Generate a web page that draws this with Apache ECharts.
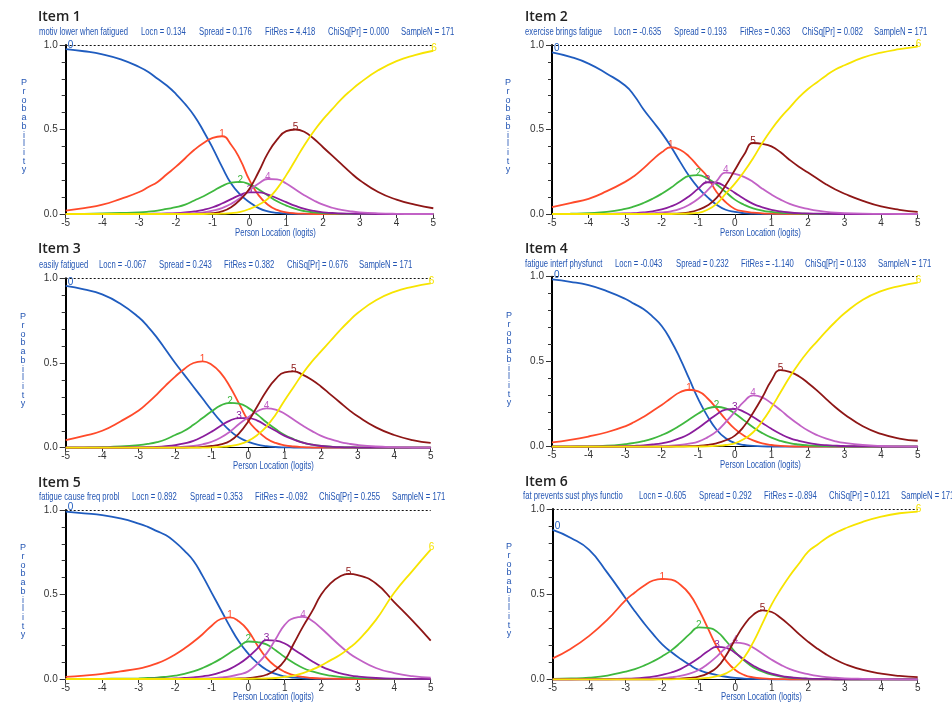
<!DOCTYPE html>
<html>
<head>
<meta charset="utf-8">
<script src="https://cdn.jsdelivr.net/npm/echarts@6/dist/echarts.min.js"></script>
<style>
  html, body { margin: 0; padding: 0; background: #fff; }
  #chart { width: 952px; height: 702px; }
</style>
</head>
<body>
<div id="chart"></div>
<script>
// Person location grid (logits), shared by every item: coarse in the tails, finer in the middle
const xs = [-5, -4.5, -4, -3.5, -3,
            -2.75, -2.5, -2.25, -2, -1.75, -1.5, -1.25, -1, -0.75, -0.5, -0.25, 0,
            0.25, 0.5, 0.75, 1, 1.25, 1.5, 1.75, 2, 2.25, 2.5, 2.75, 3,
            3.5, 4, 4.5, 5];

// Category probability curves, one row per response category 0..6
const item1 = [
  [.975, .963, .945, .915, .87, .84, .80, .76, .71, .65, .58, .49, .39, .28, .18, .115, .07, .035, .016, .007, .003, .001, 0, 0, 0, 0, 0, 0, 0, 0, 0, 0, 0],
  [.02, .035, .055, .09, .13, .16, .19, .235, .28, .33, .38, .42, .45, .46, .41, .32, .20, .11, .055, .024, .01, .004, .002, 0, 0, 0, 0, 0, 0, 0, 0, 0, 0],
  [0, .001, .003, .006, .01, .014, .02, .03, .04, .055, .08, .105, .135, .165, .185, .19, .175, .145, .11, .075, .05, .03, .017, .01, .005, .003, .001, 0, 0, 0, 0, 0, 0],
  [0, 0, 0, 0, .001, .001, .002, .003, .005, .009, .015, .025, .04, .062, .088, .113, .128, .128, .115, .093, .07, .048, .03, .018, .01, .006, .003, .002, .001, 0, 0, 0, 0],
  [0, 0, 0, 0, 0, 0, .001, .001, .002, .003, .005, .01, .02, .035, .06, .095, .14, .18, .207, .205, .18, .145, .11, .08, .055, .037, .025, .016, .01, .004, .001, 0, 0],
  [0, 0, 0, 0, 0, 0, 0, 0, 0, 0, .001, .002, .005, .015, .04, .085, .15, .25, .36, .44, .49, .50, .485, .445, .395, .345, .295, .245, .20, .13, .085, .055, .034],
  [0, 0, 0, 0, 0, 0, 0, 0, 0, 0, 0, 0, .001, .002, .005, .013, .03, .055, .09, .15, .23, .32, .41, .49, .56, .62, .68, .73, .775, .85, .905, .94, .966]
];
const item2 = [
  [.957, .93, .89, .83, .76, .70, .62, .55, .48, .40, .31, .225, .155, .10, .055, .025, .012, .005, .002, .001, 0, 0, 0, 0, 0, 0, 0, 0, 0, 0, 0, 0, 0],
  [.04, .065, .09, .135, .19, .225, .27, .32, .365, .395, .38, .34, .28, .22, .13, .07, .03, .015, .008, .004, .002, .001, 0, 0, 0, 0, 0, 0, 0, 0, 0, 0, 0],
  [0, .002, .005, .012, .03, .045, .065, .09, .12, .155, .195, .225, .23, .21, .175, .13, .085, .055, .033, .02, .012, .007, .004, .002, .001, 0, 0, 0, 0, 0, 0, 0, 0],
  [0, 0, 0, .001, .003, .005, .009, .016, .027, .045, .07, .105, .15, .188, .185, .16, .125, .09, .06, .04, .025, .015, .009, .005, .003, .002, .001, 0, 0, 0, 0, 0, 0],
  [0, 0, 0, 0, .001, .002, .003, .005, .009, .016, .03, .055, .09, .14, .195, .245, .238, .22, .19, .15, .115, .085, .06, .042, .03, .02, .013, .008, .005, .002, .001, 0, 0],
  [0, 0, 0, 0, 0, 0, 0, 0, .001, .002, .004, .01, .025, .05, .095, .17, .26, .35, .42, .415, .40, .365, .32, .28, .245, .21, .175, .145, .12, .078, .045, .025, .013],
  [0, 0, 0, 0, 0, 0, 0, 0, 0, 0, .001, .003, .007, .025, .06, .12, .18, .25, .33, .42, .50, .57, .63, .69, .74, .78, .82, .855, .88, .925, .955, .975, .99]
];
const item3 = [
  [.955, .935, .905, .85, .77, .715, .65, .575, .50, .43, .36, .29, .22, .155, .10, .06, .035, .018, .009, .004, .002, .001, 0, 0, 0, 0, 0, 0, 0, 0, 0, 0, 0],
  [.045, .07, .10, .155, .22, .265, .315, .37, .42, .465, .50, .51, .49, .44, .36, .26, .16, .10, .055, .028, .014, .007, .003, .001, 0, 0, 0, 0, 0, 0, 0, 0, 0],
  [0, .001, .003, .007, .015, .022, .033, .05, .075, .10, .135, .175, .215, .25, .265, .26, .235, .195, .15, .11, .075, .05, .03, .018, .01, .006, .003, .002, .001, 0, 0, 0, 0],
  [0, 0, 0, .001, .002, .003, .005, .009, .015, .025, .04, .065, .095, .13, .16, .175, .175, .16, .13, .10, .07, .048, .03, .018, .01, .006, .003, .002, .001, 0, 0, 0, 0],
  [0, 0, 0, 0, 0, 0, .001, .002, .003, .006, .01, .02, .035, .06, .095, .14, .18, .215, .232, .225, .20, .165, .13, .098, .07, .05, .035, .024, .016, .007, .003, .001, 0],
  [0, 0, 0, 0, 0, 0, 0, 0, .001, .001, .002, .004, .01, .02, .04, .085, .155, .245, .335, .405, .445, .45, .43, .40, .36, .315, .27, .225, .185, .12, .075, .045, .028],
  [0, 0, 0, 0, 0, 0, 0, 0, 0, 0, .001, .001, .002, .005, .01, .02, .04, .075, .125, .195, .28, .36, .44, .51, .57, .63, .69, .745, .795, .87, .92, .95, .97]
];
const item4 = [
  [.984, .97, .95, .915, .87, .84, .81, .765, .71, .625, .52, .40, .28, .18, .10, .05, .022, .01, .005, .002, .001, 0, 0, 0, 0, 0, 0, 0, 0, 0, 0, 0, 0],
  [.025, .04, .06, .085, .12, .145, .175, .21, .245, .285, .32, .335, .325, .285, .225, .16, .105, .065, .037, .02, .01, .005, .002, .001, 0, 0, 0, 0, 0, 0, 0, 0, 0],
  [0, .001, .002, .006, .015, .022, .033, .048, .068, .093, .125, .16, .195, .225, .235, .225, .195, .155, .115, .08, .053, .034, .021, .013, .008, .005, .003, .002, .001, 0, 0, 0, 0],
  [0, 0, 0, .001, .003, .005, .008, .013, .02, .032, .05, .075, .11, .15, .19, .218, .223, .205, .175, .14, .105, .075, .05, .034, .022, .014, .009, .006, .004, .002, .001, 0, 0],
  [0, 0, 0, 0, 0, 0, .001, .002, .003, .006, .01, .018, .03, .055, .09, .145, .205, .265, .302, .29, .255, .215, .17, .13, .095, .068, .047, .032, .022, .01, .004, .002, .001],
  [0, 0, 0, 0, 0, 0, 0, 0, .001, .001, .002, .003, .005, .01, .02, .038, .065, .12, .20, .29, .39, .45, .44, .415, .375, .33, .28, .232, .19, .12, .075, .048, .035],
  [0, 0, 0, 0, 0, 0, 0, 0, 0, 0, 0, 0, .001, .002, .005, .01, .02, .045, .085, .15, .23, .32, .41, .49, .56, .62, .68, .735, .785, .865, .915, .945, .965]
];
const item5 = [
  [.99, .98, .97, .95, .92, .90, .875, .85, .81, .76, .70, .61, .51, .41, .31, .22, .15, .095, .055, .03, .015, .008, .004, .002, .001, 0, 0, 0, 0, 0, 0, 0, 0],
  [.012, .02, .03, .045, .062, .075, .092, .115, .145, .18, .22, .265, .315, .355, .365, .34, .285, .20, .125, .075, .042, .023, .012, .006, .003, .002, .001, 0, 0, 0, 0, 0, 0],
  [0, 0, .001, .002, .004, .006, .008, .013, .02, .03, .045, .065, .09, .12, .155, .19, .222, .218, .205, .17, .13, .095, .065, .045, .03, .02, .013, .008, .005, .002, .001, 0, 0],
  [0, 0, 0, 0, .001, .001, .002, .002, .003, .006, .01, .016, .025, .04, .06, .09, .13, .18, .23, .227, .21, .175, .14, .105, .075, .052, .035, .023, .015, .006, .002, .001, 0],
  [0, 0, 0, 0, 0, 0, 0, 0, .001, .001, .002, .003, .005, .009, .015, .027, .045, .09, .15, .235, .32, .36, .368, .345, .30, .25, .20, .155, .12, .065, .035, .017, .008],
  [0, 0, 0, 0, 0, 0, 0, 0, 0, 0, 0, 0, .001, .001, .002, .003, .005, .012, .025, .055, .11, .21, .31, .40, .50, .565, .605, .622, .615, .565, .455, .345, .227],
  [0, 0, 0, 0, 0, 0, 0, 0, 0, 0, 0, 0, 0, 0, 0, 0, .001, .002, .003, .006, .012, .02, .035, .055, .08, .11, .14, .18, .225, .35, .51, .64, .765]
];
const item6 = [
  [.877, .83, .76, .625, .475, .40, .33, .265, .205, .16, .12, .085, .055, .038, .025, .015, .008, .004, .002, .001, 0, 0, 0, 0, 0, 0, 0, 0, 0, 0, 0, 0, 0],
  [.123, .18, .255, .35, .465, .51, .55, .58, .59, .585, .555, .50, .41, .30, .19, .11, .055, .025, .011, .005, .002, .001, 0, 0, 0, 0, 0, 0, 0, 0, 0, 0, 0],
  [.003, .005, .01, .022, .045, .06, .08, .105, .135, .17, .215, .265, .305, .302, .28, .225, .16, .11, .07, .045, .027, .016, .009, .005, .003, .002, .001, 0, 0, 0, 0, 0, 0],
  [0, 0, .001, .002, .004, .006, .01, .016, .026, .04, .06, .09, .125, .165, .19, .185, .155, .115, .08, .052, .033, .02, .012, .007, .004, .002, .001, 0, 0, 0, 0, 0, 0],
  [0, 0, 0, 0, .001, .001, .002, .004, .007, .012, .02, .033, .055, .09, .135, .185, .215, .21, .185, .15, .115, .085, .06, .042, .03, .02, .013, .009, .006, .003, .001, 0, 0],
  [0, 0, 0, 0, 0, 0, 0, 0, .001, .002, .004, .008, .016, .035, .07, .14, .235, .32, .38, .405, .395, .36, .315, .265, .22, .18, .145, .115, .09, .055, .033, .02, .013],
  [0, 0, 0, 0, 0, 0, 0, 0, 0, 0, .001, .002, .004, .008, .018, .035, .07, .13, .22, .33, .44, .53, .61, .68, .75, .79, .83, .86, .885, .925, .955, .975, .985]
];

// Item headings and fit statistics
const itemTitles = ['Item 1', 'Item 2', 'Item 3', 'Item 4', 'Item 5', 'Item 6'];
const itemNames = ['motiv lower when fatigued', 'exercise brings fatigue', 'easily fatigued',
                   'fatigue interf physfunct', 'fatigue cause freq probl', 'fat prevents sust phys functio'];
const locn = ['0.134', '-0.635', '-0.067', '-0.043', '0.892', '-0.605'];
const spread = ['0.176', '0.193', '0.243', '0.232', '0.353', '0.292'];
const fitRes = ['4.418', '0.363', '0.382', '-1.140', '-0.092', '-0.894'];
const chiSq = ['0.000', '0.082', '0.676', '0.133', '0.255', '0.121'];
const sampleN = ['171', '171', '171', '171', '171', '171'];
const categories = ['0', '1', '2', '3', '4', '5', '6'];
const xAxisTitle = 'Person Location (logits)';
const yAxisTitle = 'Probability';

const items = [item1, item2, item3, item4, item5, item6];

// Panel layout (pixels)
const layout = [
  { grid: [65.7, 45, 367.6, 169],   title: [38, 17],  subY: 32,  fields: [39, 141, 199, 265, 328, 401],  prob: [24, 83],  axisName: [235, 233] },
  { grid: [552, 45, 365.7, 169],    title: [525, 17], subY: 32,  fields: [525, 614, 674, 740, 802, 874], prob: [508, 83], axisName: [720, 233] },
  { grid: [65.7, 278.3, 365, 169.4], title: [38, 249], subY: 265, fields: [39, 99, 159, 224, 287, 359],  prob: [23, 317], axisName: [233, 466] },
  { grid: [552, 276.7, 365.7, 170], title: [525, 249], subY: 264, fields: [525, 615, 676, 741, 805, 878], prob: [509, 316], axisName: [720, 465] },
  { grid: [65.7, 510, 365, 169],    title: [38, 483], subY: 497, fields: [39, 132, 190, 255, 319, 392],  prob: [23, 548], axisName: [233, 697] },
  { grid: [552.7, 509, 365, 170.3], title: [525, 482], subY: 496, fields: [523, 639, 699, 764, 829, 901], prob: [509, 547], axisName: [721, 697] }
];

const curveColors = ['#1f5cbf', '#ff4a2a', '#3fb83f', '#8a1d9c', '#c262c6', '#8e1616', '#f7e400'];
const textBlue = '#2456b4';
const sansFont = '"Liberation Sans", Arial, sans-serif';

const grids = [], xAxes = [], yAxes = [], series = [], graphics = [];

layout.forEach((L, p) => {
  grids.push({ left: L.grid[0], top: L.grid[1], width: L.grid[2], height: L.grid[3] });
  xAxes.push({
    gridIndex: p, type: 'value', min: -5, max: 5, interval: 1,
    axisLine: { show: true, onZero: false, lineStyle: { color: '#000', width: 1 } },
    axisTick: { show: true, length: 4, lineStyle: { color: '#333' } },
    axisLabel: { margin: 4, fontSize: 10, color: '#333', fontFamily: sansFont },
    splitLine: { show: false }
  });
  yAxes.push({
    gridIndex: p, type: 'value', min: 0, max: 1, interval: 0.5,
    axisLine: { show: true, onZero: false, lineStyle: { color: '#000', width: 2 } },
    axisTick: { show: true, length: 6, lineStyle: { color: '#333' } },
    minorTick: { show: true, splitNumber: 5, length: 4, lineStyle: { color: '#333' } },
    axisLabel: { margin: 8, fontSize: 10, color: '#333', fontFamily: sansFont, formatter: v => v.toFixed(1) },
    splitLine: { show: false }
  });

  items[p].forEach((vals, c) => {
    // category number sits at the curve's highest point (end points for the extreme categories)
    let peak = 0;
    if (c === 6) peak = vals.length - 1;
    else if (c > 0) vals.forEach((v, k) => { if (v > vals[peak]) peak = k; });
    let labelCfg;
    if (c === 0) labelCfg = { position: 'right', distance: 2, offset: [0, -4] };
    else if (c === 6) labelCfg = { position: 'right', distance: 0, offset: [-2, -2] };
    else labelCfg = { position: 'top', distance: 0, offset: [0, 3] };
    const data = xs.map((x, k) => k === peak
      ? { value: [x, vals[k]], label: Object.assign({ show: true, formatter: categories[c], color: curveColors[c], fontSize: 10, fontFamily: sansFont }, labelCfg) }
      : [x, vals[k]]);
    const s = {
      type: 'line', xAxisIndex: p, yAxisIndex: p, data,
      smooth: 0.5, showSymbol: true, symbol: 'circle', symbolSize: 0, clip: false,
      label: { show: false },
      lineStyle: { color: curveColors[c], width: 1.8 },
      itemStyle: { color: curveColors[c] },
      emphasis: { disabled: true }, silent: true, z: 3 + c
    };
    if (c === 0) {
      s.markLine = {
        silent: true, symbol: 'none', label: { show: false },
        lineStyle: { type: [2, 2], color: '#111', width: 1 },
        data: [{ yAxis: 1 }]
      };
    }
    series.push(s);
  });

  // Panel heading
  graphics.push({ type: 'text', x: L.title[0], y: L.title[1],
    style: { text: itemTitles[p], fill: '#222', font: '600 14px "Open Sans", sans-serif', verticalAlign: 'middle' } });
  const fieldTexts = [itemNames[p], 'Locn = ' + locn[p], 'Spread = ' + spread[p], 'FitRes = ' + fitRes[p],
                      'ChiSq[Pr] = ' + chiSq[p], 'SampleN = ' + sampleN[p]];
  fieldTexts.forEach((t, i) => {
    graphics.push({ type: 'text', x: L.fields[i], y: L.subY, scaleX: 0.77,
      style: { text: t, fill: textBlue, font: '10px ' + sansFont, verticalAlign: 'middle' } });
  });
  // Vertical axis title, one letter per line
  graphics.push({ type: 'text', x: L.prob[0], y: L.prob[1] - 4.5,
    style: { text: yAxisTitle.split('').join('\n'), fill: textBlue, font: '9px ' + sansFont,
             lineHeight: 8.7, align: 'center', verticalAlign: 'top' } });
  // Horizontal axis title
  graphics.push({ type: 'text', x: L.axisName[0], y: L.axisName[1], scaleX: 0.77,
    style: { text: xAxisTitle, fill: textBlue, font: '10px ' + sansFont, verticalAlign: 'middle' } });
});

const chart = echarts.init(document.getElementById('chart'), null, { renderer: 'canvas' });
chart.setOption({
  animation: false,
  backgroundColor: '#fff',
  grid: grids,
  xAxis: xAxes,
  yAxis: yAxes,
  series,
  graphic: graphics
});
</script>
</body>
</html>
